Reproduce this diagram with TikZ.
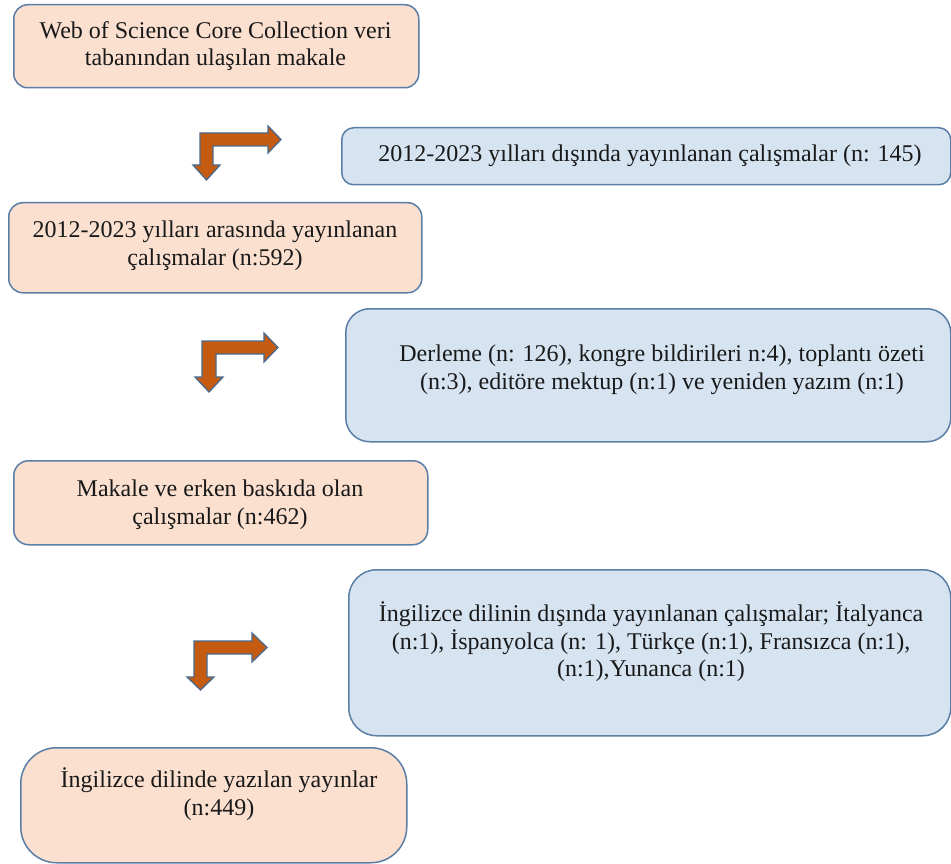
\documentclass[tikz,border=0pt]{standalone}
\usepackage{fontspec}
\setmainfont{Liberation Serif}
\usetikzlibrary{calc}
\definecolor{peach}{HTML}{FBE0D0}
\definecolor{paleblue}{HTML}{D6E4F1}
\definecolor{edgeblue}{HTML}{5A7EA5}
\definecolor{arrowfill}{HTML}{C55A11}
\definecolor{arrowedge}{HTML}{4A6A8E}
\tikzset{
  box/.style={draw=edgeblue, line width=1.5pt, inner sep=0pt, anchor=north west},
  obox/.style={box, fill=peach},
  bbox/.style={box, fill=paleblue},
  txt/.style={align=center, font=\fontsize{24}{27.6}\selectfont, inner sep=0pt, text=black!90},
  bent/.style={fill=arrowfill, draw=arrowedge, line width=1.3pt, line join=miter}
}
\begin{document}
\begin{tikzpicture}[x=1pt, y=-1pt]
\useasboundingbox (0,0) rectangle (951,864);
% boxes
\node[obox, rounded corners=14pt, minimum width=405pt, minimum height=83pt] (b1) at (13,4) {};
\node[bbox, rounded corners=12pt, minimum width=609pt, minimum height=57pt] (b2) at (341,127) {};
\node[obox, rounded corners=14pt, minimum width=413pt, minimum height=90pt] (b3) at (8,202) {};
\node[bbox, rounded corners=24pt, minimum width=605pt, minimum height=133pt] (b4) at (345,308) {};
\node[obox, rounded corners=15pt, minimum width=414pt, minimum height=84pt] (b5) at (13,460) {};
\node[bbox, rounded corners=28pt, minimum width=602pt, minimum height=166pt] (b6) at (348,569) {};
\node[obox, rounded corners=36pt, minimum width=386pt, minimum height=115pt] (b7) at (20,747) {};
% texts
\node[txt] (t1) at (215.5,46) {Web of Science Core Collection veri\\tabanından ulaşılan makale};
\node[txt] (t2) at (650,156) {2012-2023 yılları dışında yayınlanan çalışmalar (n: 145)};
\node[txt] (t3) at (215,246) {2012-2023 yılları arasında yayınlanan\\çalışmalar (n:592)};
\node[txt] (t4) at (662,370) {Derleme (n: 126), kongre bildirileri n:4), toplantı özeti\\(n:3), editöre mektup (n:1) ve yeniden yazım (n:1)};
\node[txt] (t5) at (220,505) {Makale ve erken baskıda olan\\çalışmalar (n:462)};
\node[txt] (t6) at (651,642) {İngilizce dilinin dışında yayınlanan çalışmalar; İtalyanca\\(n:1), İspanyolca (n: 1), Türkçe (n:1), Fransızca (n:1),\\(n:1),Yunanca (n:1)};
\node[txt] (t7) at (219,794) {İngilizce dilinde yazılan yayınlar\\(n:449)};
% bent arrows
\draw[bent] (200,133) -- (268,133) -- (268,126) -- (281,139.5) -- (268,153) -- (268,146) -- (213,146) -- (213,165) -- (220,165) -- (206.5,180) -- (193,165) -- (200,165) -- cycle;
\draw[bent] (202,341) -- (264,341) -- (264,333) -- (278,347.5) -- (264,362) -- (264,354) -- (216,354) -- (216,377) -- (223,377) -- (209,392) -- (195,377) -- (202,377) -- cycle;
\draw[bent] (194,641) -- (252,641) -- (252,633) -- (267,647.5) -- (252,662) -- (252,654) -- (207,654) -- (207,677) -- (214,677) -- (200.5,690) -- (187,677) -- (194,677) -- cycle;
\end{tikzpicture}
\end{document}
